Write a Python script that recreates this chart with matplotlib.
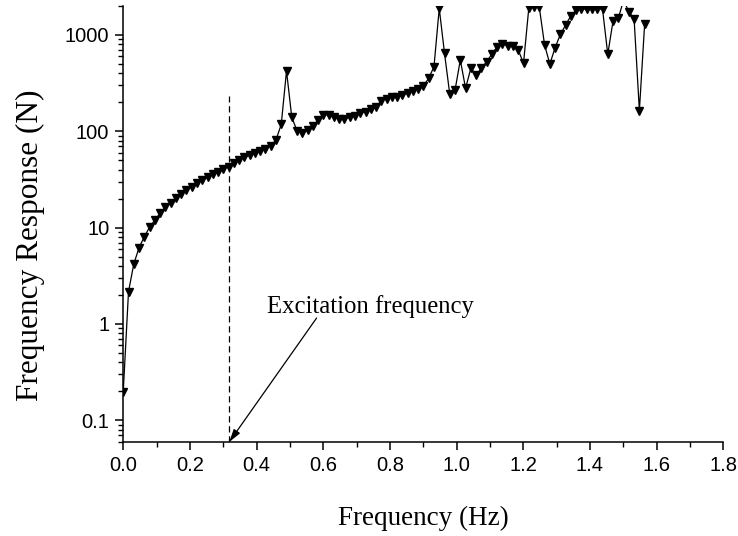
import numpy as np
import matplotlib
matplotlib.use("Agg")
import matplotlib.pyplot as plt

# frequency step (Hz) and response values (N)
df = 0.0158
response = [
    0.198, 2.16, 4.19, 6.18, 8.05, 10.1, 12.0, 14.1, 16.3, 18.2,
    20.1, 22.3, 24.4, 26.6, 28.8, 31.0, 33.3, 35.7, 37.8, 40.6,
    43.0, 46.5, 50.5, 53.7, 56.4, 59.2, 62.4, 65.5, 70.8, 81.2,
    118, 423, 140, 101, 97, 102, 114, 131, 149, 148,
    140, 135, 135, 140, 145, 154, 160, 170, 180, 208,
    218, 225, 229, 238, 248, 264, 277, 298, 355, 469,
    1890, 646, 242, 268, 550, 280, 451, 384, 451, 528,
    635, 756, 807, 774, 774, 699, 508, 1890, 1940, 1940,
    787, 500, 738, 1017, 1270, 1586, 1819, 1860, 1860, 1860,
    1860, 1860, 631, 1397, 1490, 2300, 1746, 1466, 164, 1300,
]
freq = np.arange(len(response)) * df

excitation_freq = 0.318
excitation_top = 230
xticks = [0.0, 0.2, 0.4, 0.6, 0.8, 1.0, 1.2, 1.4, 1.6, 1.8]
yticks = [0.1, 1, 10, 100, 1000]
ytick_labels = ["0.1", "1", "10", "100", "1000"]

serif = "Liberation Serif"
sans = "Liberation Sans"

fig = plt.figure(figsize=(7.38, 5.36), dpi=100)
ax = fig.add_axes([0.167, 0.1754, 0.813, 0.8134])

ax.plot(freq, response, color="black", lw=0.9, marker="v", ms=5.3,
        mfc="black", mec="black")

ax.set_yscale("log")
ax.set_xlim(0, 1.8)
ax.set_ylim(0.0594, 2000)

ax.plot([excitation_freq, excitation_freq], [0.0594, excitation_top],
        color="black", lw=0.9, ls=(0, (5, 3)))

ax.annotate("", xy=(excitation_freq, 0.0594), xytext=(0.58, 1.15),
            arrowprops=dict(arrowstyle="-|>,head_width=0.16,head_length=0.55",
                            color="black", lw=0.9,
                            mutation_scale=14, shrinkA=0, shrinkB=0))
ax.text(0.431, 1.3, "Excitation frequency", family=serif, fontsize=17.8,
        ha="left", va="baseline")

for s in ["top", "right"]:
    ax.spines[s].set_visible(False)
for s in ["left", "bottom"]:
    ax.spines[s].set_linewidth(1.1)

ax.set_xticks(xticks)
ax.set_xticklabels([f"{t:.1f}" for t in xticks])
ax.set_xticks(np.arange(0.1, 1.8, 0.2), minor=True)
ax.set_yticks(yticks)
ax.set_yticklabels(ytick_labels)

ax.tick_params(which="major", direction="out", length=6, width=1.1,
               labelsize=14.5, pad=4)
ax.tick_params(which="minor", direction="out", length=3.5, width=1.0)
for lab in ax.get_xticklabels() + ax.get_yticklabels():
    lab.set_family(sans)

ax.set_xlabel("Frequency (Hz)", family=serif, fontsize=19.5, labelpad=22)
ax.set_ylabel("Frequency Response (N)", family=serif, fontsize=22.5,
              va="center")
ax.yaxis.set_label_coords(-0.155, 0.452)

fig.savefig("out.png", dpi=100)
